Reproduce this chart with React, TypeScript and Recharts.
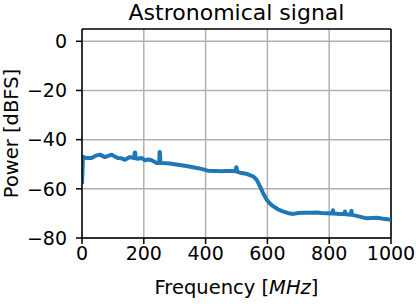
import React from 'react';
import { LineChart, Line, XAxis, YAxis, CartesianGrid, ReferenceLine } from 'recharts';

const freqMHz = [0, 3, 15, 31, 45, 58, 74, 85, 96, 108, 117, 128, 139, 155, 168, 171, 172, 174, 180, 193, 204, 215, 225, 242, 250, 251, 252, 254, 258, 275, 290, 310, 333, 355, 376, 395, 409, 430, 453, 470, 485, 497, 499, 500, 502, 505, 517, 535, 555, 566, 576, 587, 598, 610, 620, 635, 652, 668, 684, 700, 716, 740, 760, 775, 792, 810, 812, 814, 835, 849, 851, 853, 870, 872, 874, 889, 905, 921, 940, 954, 975, 1000];
const powerDbfs = [-58, -47, -47.5, -47.5, -46.5, -46.1, -47.1, -46.6, -46.1, -47, -47.5, -47.6, -48.2, -47.1, -47.5, -45.2, -45.2, -47.6, -47.8, -47.5, -48.4, -48.1, -48.4, -49.5, -49.5, -45, -45, -49.5, -49.5, -49.6, -49.8, -50.2, -50.6, -51.1, -51.6, -52.2, -52.7, -52.8, -52.9, -52.7, -52.8, -52.9, -51.2, -51.2, -53, -53.2, -53.6, -54, -55, -56.5, -59, -62, -64.5, -66.2, -67.2, -68.4, -69.3, -69.9, -70.2, -69.8, -69.7, -69.7, -69.6, -69.8, -69.9, -70, -68.7, -70, -70.2, -70.2, -69.2, -70.3, -70.5, -68.9, -70.6, -71, -71.5, -72, -71.9, -71.8, -72.2, -72.6];

const xTicks = [0, 200, 400, 600, 800, 1000];
const yTicks = [-80, -60, -40, -20, 0];

const chartTitle = 'Astronomical signal';
const yLabel = 'Power [dBFS]';

const data = freqMHz.map((f, i) => ({ f, p: powerDbfs[i] }));

const FONT = 'DejaVu Sans';
const TICK_FS = 19;
const LABEL_FS = 19.5;
const fmt = (v: number) => String(v).replace('-', '\u2212');

const XLabel = (props: any) => {
  const vb = props.viewBox;
  const cx = vb.x + vb.width / 2;
  return (
    <text x={cx} y={294} textAnchor="middle" fontFamily={FONT} fontSize={LABEL_FS} fill="#000">
      <tspan>Frequency [</tspan>
      <tspan fontStyle="italic">MHz</tspan>
      <tspan>]</tspan>
    </text>
  );
};

const YLabel = (props: any) => {
  const vb = props.viewBox;
  const cy = vb.y + vb.height / 2;
  return (
    <text x={18} y={cy} transform={`rotate(-90 18 ${cy})`} textAnchor="middle" fontFamily={FONT} fontSize={LABEL_FS} fill="#000">
      {yLabel}
    </text>
  );
};

export default function App() {
  return (
    <div style={{ position: 'absolute', left: 0, top: 0, width: 416, height: 304, background: '#fff' }}>
      <LineChart width={416} height={304} data={data} margin={{ top: 29, right: 25, left: 0, bottom: 0 }}>
        <CartesianGrid stroke="#b0b0b0" strokeWidth={1.5} horizontalValues={yTicks} verticalValues={xTicks} />
        <XAxis
          dataKey="f"
          type="number"
          domain={[0, 1000]}
          ticks={xTicks}
          height={66}
          tickSize={6}
          tickMargin={3}
          stroke="#000"
          axisLine={{ stroke: '#000', strokeWidth: 1.5 }}
          tickLine={{ stroke: '#000', strokeWidth: 1.5 }}
          tick={{ fill: '#000', fontFamily: FONT, fontSize: TICK_FS }}
          label={<XLabel />}
          allowDataOverflow
        />
        <YAxis
          type="number"
          domain={[-80, 5]}
          ticks={yTicks}
          width={82}
          tickSize={6}
          tickMargin={9}
          tickFormatter={fmt}
          axisLine={{ stroke: '#000', strokeWidth: 1.5 }}
          tickLine={{ stroke: '#000', strokeWidth: 1.5 }}
          tick={{ fill: '#000', fontFamily: FONT, fontSize: TICK_FS }}
          label={<YLabel />}
          allowDataOverflow
        />
        <ReferenceLine y={5} stroke="#000" strokeWidth={1.5} />
        <ReferenceLine x={1000} stroke="#000" strokeWidth={1.5} />
        <Line dataKey="p" type="linear" stroke="#1f77b4" strokeWidth={4} dot={false} isAnimationActive={false} strokeLinejoin="round" />
      </LineChart>
      <svg width={416} height={28} style={{ position: 'absolute', left: 0, top: 0 }}>
        <text x={236.5} y={19.5} textAnchor="middle" fontFamily={FONT} fontSize={22} fill="#000">
          {chartTitle}
        </text>
      </svg>
    </div>
  );
}
